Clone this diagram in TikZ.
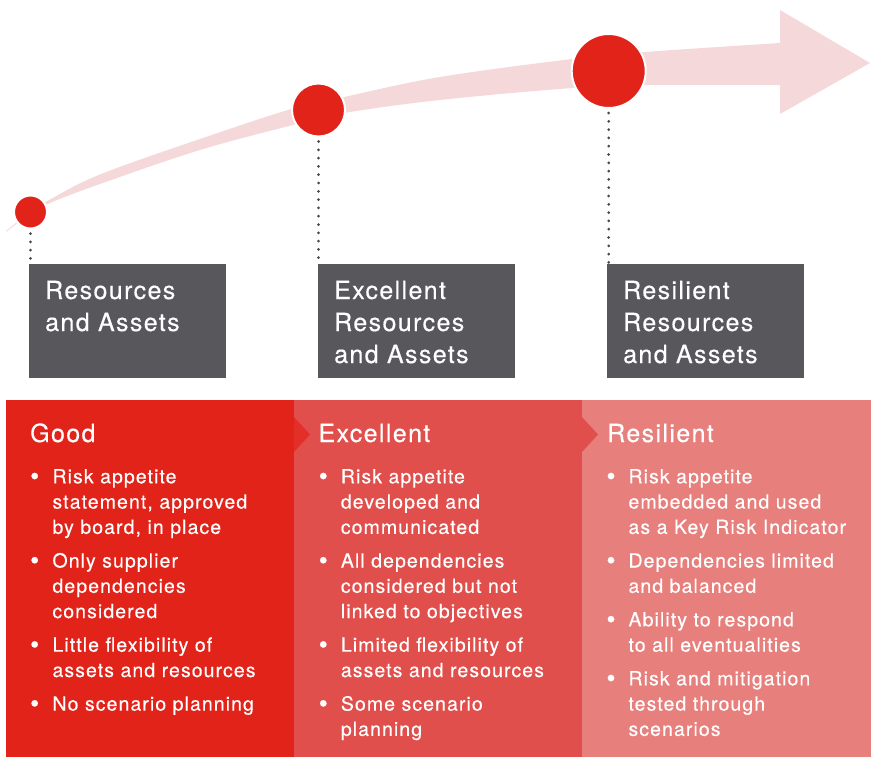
\documentclass[tikz,border=0pt]{standalone}
\usepackage{fontspec}
\setmainfont{TeX Gyre Heros}[LetterSpace=5.5, FakeBold=0.35]
\usetikzlibrary{calc}
\definecolor{goodred}{HTML}{E2231A}
\definecolor{exred}{HTML}{E14F4C}
\definecolor{respink}{HTML}{E77F7C}
\definecolor{boxgray}{HTML}{58575C}
\definecolor{bandpink}{HTML}{F5D8D9}
\definecolor{dotgray}{HTML}{484848}

% stacked lines with a fixed baseline distance; the box baseline is the first line
\newcommand{\txtlines}[2]{\vtop{\baselineskip=#1\relax\lineskiplimit=-20pt #2}}

\begin{document}
\begin{tikzpicture}[x=1pt,y=-1pt,
  stagebox/.style={fill=boxgray, minimum width=197pt, minimum height=114pt, inner sep=0pt, anchor=north west},
  stagetxt/.style={text=white, inner sep=0pt, anchor=base west, font=\fontsize{25}{32}\selectfont},
  marker/.style={circle, fill=goodred, draw=white, line width=2pt, inner sep=0pt},
  leader/.style={dotgray, line width=3pt, line cap=round, dash pattern=on 0pt off 8.3pt},
  heading/.style={text=white, inner sep=0pt, anchor=base west, font=\fontsize{25}{30}\selectfont},
  bulletdot/.style={text=white, inner sep=0pt, anchor=base, font=\fontsize{26}{30}\selectfont},
  itemtxt/.style={text=white, inner sep=0pt, anchor=base west, font=\fontsize{19.5}{25.3}\selectfont},
]
\useasboundingbox (0,0) rectangle (877,758);

% rising band with arrow head
\fill[bandpink]
  plot[smooth, tension=0.6] coordinates {(6,231) (30,212) (50,199.5) (100,174.5) (200,139) (293,108.5) (344,97) (440,77) (572,59) (645,52) (780,43)}
  -- (780,10) -- (870,63) -- (780,114) -- (780,85)
  -- plot[smooth, tension=0.6] coordinates {(645,85) (572,88) (440,100) (344,113) (293,125) (200,150) (100,184) (50,203) (30,214) (6,232)}
  -- cycle;

% milestone markers
\node[marker, minimum size=33pt] (c1) at (30.5,212) {};
\node[marker, minimum size=53pt] (c2) at (318.5,110) {};
\node[marker, minimum size=74pt] (c3) at (608.7,71) {};

% stage boxes
\node[stagebox] (b1) at (29,264) {};
\node[stagebox] (b2) at (318,264) {};
\node[stagebox] (b3) at (607,264) {};

% dotted leaders from markers down to boxes
\draw[leader] ($(c1.south)+(0,4)$) -- (c1.south |- b1.north);
\draw[leader] ($(c2.south)+(0,4)$) -- (c2.south |- b2.north);
\draw[leader] ($(c3.south)+(0,4)$) -- (c3.south |- b3.north);

\node[stagetxt] (t1) at (45,299) {\txtlines{32pt}{\hbox{Resources}\hbox{and Assets}}};
\node[stagetxt] (t2) at (334,299) {\txtlines{32pt}{\hbox{Excellent}\hbox{Resources}\hbox{and Assets}}};
\node[stagetxt] (t3) at (623,299) {\txtlines{32pt}{\hbox{Resilient}\hbox{Resources}\hbox{and Assets}}};

% maturity panels
\fill[goodred] (6,400) rectangle (294,757);
\fill[exred] (294,400) rectangle (582,757);
\fill[respink] (582,400) rectangle (871,757);
\fill[goodred!70!exred] (294,417) -- (310,434.5) -- (294,452) -- cycle;
\fill[exred] (582,417) -- (598,434.5) -- (582,452) -- cycle;

% Good
\node[heading] (hg) at (30,442) {Good};
\node[bulletdot] (gd1) at (34.7,485) {•};
\node[itemtxt] (gi1) at (52.3,483.3) {\txtlines{25.3pt}{\hbox{Risk appetite}\hbox{statement, approved}\hbox{by board, in place}}};
\node[bulletdot] (gd2) at (34.7,569.2) {•};
\node[itemtxt] (gi2) at (52.3,567.5) {\txtlines{25.3pt}{\hbox{Only supplier}\hbox{dependencies}\hbox{considered}}};
\node[bulletdot] (gd3) at (34.7,653.4) {•};
\node[itemtxt] (gi3) at (52.3,651.7) {\txtlines{25.3pt}{\hbox{Little flexibility of}\hbox{assets and resources}}};
\node[bulletdot] (gd4) at (34.7,712.3) {•};
\node[itemtxt] (gi4) at (52.3,710.6) {\txtlines{25.3pt}{\hbox{No scenario planning}}};

% Excellent
\node[heading] (he) at (318.3,442) {Excellent};
\node[bulletdot] (ed1) at (323.3,485) {•};
\node[itemtxt] (ei1) at (340.7,483.3) {\txtlines{25.3pt}{\hbox{Risk appetite}\hbox{developed and}\hbox{communicated}}};
\node[bulletdot] (ed2) at (323.3,569.2) {•};
\node[itemtxt] (ei2) at (340.7,567.5) {\txtlines{25.3pt}{\hbox{All dependencies}\hbox{considered but not}\hbox{linked to objectives}}};
\node[bulletdot] (ed3) at (323.3,653.4) {•};
\node[itemtxt] (ei3) at (340.7,651.7) {\txtlines{25.3pt}{\hbox{Limited flexibility of}\hbox{assets and resources}}};
\node[bulletdot] (ed4) at (323.3,712.3) {•};
\node[itemtxt] (ei4) at (340.7,710.6) {\txtlines{25.3pt}{\hbox{Some scenario}\hbox{planning}}};

% Resilient
\node[heading] (hr) at (607,442) {Resilient};
\node[bulletdot] (rd1) at (611,485) {•};
\node[itemtxt] (ri1) at (628.3,483.3) {\txtlines{25.3pt}{\hbox{Risk appetite}\hbox{embedded and used}\hbox{as a Key Risk Indicator}}};
\node[bulletdot] (rd2) at (611,569.2) {•};
\node[itemtxt] (ri2) at (628.3,567.5) {\txtlines{25.3pt}{\hbox{Dependencies limited}\hbox{and balanced}}};
\node[bulletdot] (rd3) at (611,628.1) {•};
\node[itemtxt] (ri3) at (628.3,626.4) {\txtlines{25.3pt}{\hbox{Ability to respond}\hbox{to all eventualities}}};
\node[bulletdot] (rd4) at (611,687) {•};
\node[itemtxt] (ri4) at (628.3,685.3) {\txtlines{25.3pt}{\hbox{Risk and mitigation}\hbox{tested through}\hbox{scenarios}}};
\end{tikzpicture}
\end{document}
